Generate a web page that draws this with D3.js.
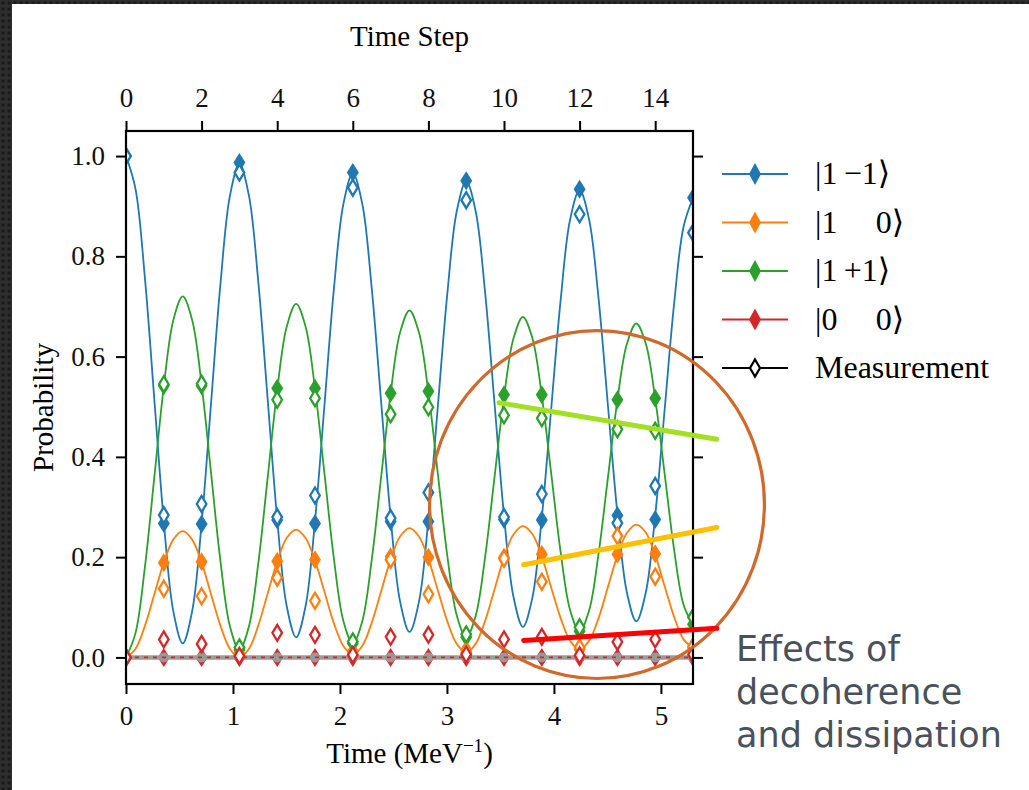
<!DOCTYPE html>
<html>
<head>
<meta charset="utf-8">
<script src="https://cdn.jsdelivr.net/npm/d3@7"></script>
<style>
  body { margin: 0; background: #fff; }
  text { font-family: "Liberation Serif", "DejaVu Serif", serif; }
</style>
</head>
<body>
<div id="chart"></div>
<script>
// time steps and axis extents
const steps = d3.range(0, 16);
const stepMax = 15;
const timeMax = 5.3;
const timeTicks = [0, 1, 2, 3, 4, 5];
const stepTicks = [0, 2, 4, 6, 8, 10, 12, 14];
const probTicks = [0.0, 0.2, 0.4, 0.6, 0.8, 1.0];

// continuous curves, sampled every quarter step
const curveSteps = d3.range(0, 15.001, 0.25);
const blueCurve = [1.000,0.935,0.757,0.514,0.271,0.093,0.028,0.092,0.267,0.507,0.746,0.921,
  0.985,0.922,0.749,0.513,0.276,0.103,0.040,0.102,0.272,0.503,0.735,0.904,
  0.966,0.905,0.737,0.509,0.280,0.112,0.051,0.111,0.276,0.501,0.725,0.890,
  0.950,0.890,0.728,0.506,0.283,0.121,0.061,0.119,0.279,0.497,0.714,0.874,
  0.932,0.874,0.717,0.502,0.287,0.130,0.072,0.129,0.283,0.494,0.705,0.859,
  0.916];
const orangeCurve = [0.000,0.017,0.063,0.126,0.189,0.235,0.252,0.235,0.189,0.126,0.063,0.017,
  0.000,0.017,0.064,0.128,0.191,0.238,0.255,0.238,0.193,0.131,0.068,0.023,
  0.006,0.023,0.069,0.132,0.195,0.241,0.258,0.241,0.196,0.134,0.072,0.027,
  0.010,0.027,0.073,0.136,0.199,0.245,0.262,0.246,0.201,0.139,0.078,0.033,
  0.016,0.033,0.078,0.141,0.203,0.248,0.265,0.249,0.204,0.142,0.081,0.036,
  0.019];
const greenCurve = [0.000,0.048,0.180,0.360,0.540,0.672,0.720,0.673,0.544,0.368,0.191,0.062,
  0.015,0.061,0.188,0.360,0.533,0.659,0.705,0.660,0.536,0.367,0.197,0.073,
  0.028,0.072,0.194,0.360,0.526,0.648,0.692,0.648,0.529,0.366,0.203,0.084,
  0.040,0.083,0.200,0.360,0.519,0.636,0.679,0.637,0.522,0.366,0.209,0.094,
  0.052,0.093,0.206,0.359,0.513,0.625,0.666,0.626,0.516,0.366,0.215,0.105,
  0.065];
const redCurve = [0, 0];

// simulated values (filled diamonds) per time step
const blueSim   = [1.000,0.267,0.266,0.987,0.274,0.267,0.967,0.271,0.271,0.951,0.275,0.274,0.934,0.283,0.275,0.917];
const orangeSim = [0.000,0.189,0.191,0.003,0.192,0.195,0.006,0.201,0.200,0.010,0.200,0.206,0.016,0.206,0.207,0.019];
const greenSim  = [0.000,0.542,0.542,0.015,0.537,0.537,0.028,0.527,0.531,0.040,0.524,0.524,0.052,0.514,0.517,0.066];
const redSim    = [0,0,0,0,0,0,0,0,0,0,0,0,0,0,0,0];
const baseSim   = [0,0,0,0,0,0,0,0,0,0,0,0,0,0,0,0];

// measurements (open diamonds)
const blueMeas   = [1.000,0.284,0.306,0.967,0.280,0.323,0.937,0.278,0.329,0.912,0.280,0.326,0.884,0.268,0.342,0.847];
const orangeMeas = [0.000,0.137,0.122,0.008,0.159,0.113,0.012,0.195,0.126,0.015,0.197,0.151,0.020,0.242,0.161,0.022];
const greenMeas  = [0.000,0.545,0.546,0.020,0.514,0.517,0.032,0.485,0.499,0.046,0.483,0.477,0.060,0.455,0.452,0.080];
const redMeas    = [0.000,0.036,0.027,0.003,0.049,0.045,0.005,0.041,0.045,0.006,0.036,0.041,0.004,0.031,0.036,0.006];

const legendLabels = ["|1\u2009\u22121\u27E9", "|1\u2003\u20090\u27E9", "|1\u2009+1\u27E9", "|0\u2003\u20090\u27E9", "Measurement"];

// annotation overlay (step, probability)
const ringCenter = [12.46, 0.305];
const ringRadius = [4.43, 0.347];
const arrowsAnn = [
  {from: [9.87, 0.508], to: [15.63, 0.435], color: "#a3df22"},
  {from: [10.52, 0.185], to: [15.63, 0.259], color: "#ffc000"},
  {from: [10.52, 0.034], to: [15.63, 0.058], color: "#ff0000"}
];
const noteLines = ["Effects of", "decoherence", "and dissipation"];

const colors = {blue: "#1f77b4", orange: "#ff7f0e", green: "#2ca02c", red: "#d62728"};

const W = 1029, H = 790;
const plot = {left: 126, right: 693, top: 131, bottom: 684};

const svg = d3.select("#chart").append("svg")
  .attr("width", W).attr("height", H);

// slide border
const defs = svg.append("defs");
const pat = defs.append("pattern").attr("id", "dots")
  .attr("width", 6).attr("height", 6).attr("patternUnits", "userSpaceOnUse");
pat.append("rect").attr("width", 6).attr("height", 6).attr("fill", "#2e2e2e");
pat.append("circle").attr("cx", 3).attr("cy", 3).attr("r", 1.8).attr("fill", "#1b1b1b");
svg.append("rect").attr("x", 0).attr("y", 0).attr("width", W).attr("height", 4).attr("fill", "url(#dots)");
svg.append("rect").attr("x", 0).attr("y", 0).attr("width", 12).attr("height", H).attr("fill", "url(#dots)");

defs.append("clipPath").attr("id", "clip").append("rect")
  .attr("x", plot.left).attr("y", plot.top)
  .attr("width", plot.right - plot.left).attr("height", plot.bottom - plot.top);

// scales
const xStep = d3.scaleLinear().domain([0, stepMax]).range([plot.left, plot.right]);
const xTime = d3.scaleLinear().domain([0, timeMax]).range([plot.left, plot.right]);
const y = d3.scaleLinear().domain([-0.053, 1.05]).range([plot.bottom, plot.top]);

// axes
const fmt1 = d3.format(".1f");
const gB = svg.append("g").attr("transform", `translate(0,${plot.bottom})`)
  .call(d3.axisBottom(xTime).tickValues(timeTicks).tickSize(10).tickPadding(12).tickFormat(d3.format("d")));
const gT = svg.append("g").attr("transform", `translate(0,${plot.top})`)
  .call(d3.axisTop(xStep).tickValues(stepTicks).tickSize(10).tickPadding(14).tickFormat(d3.format("d")));
const gL = svg.append("g").attr("transform", `translate(${plot.left},0)`)
  .call(d3.axisLeft(y).tickValues(probTicks).tickSize(10).tickPadding(11).tickFormat(fmt1));
const gR = svg.append("g").attr("transform", `translate(${plot.right},0)`)
  .call(d3.axisRight(y).tickValues(probTicks).tickSize(10).tickFormat(""));
[gB, gT, gL, gR].forEach(g => {
  g.select(".domain").remove();
  g.selectAll(".tick line").attr("stroke", "#000").attr("stroke-width", 2);
  g.selectAll(".tick text").attr("font-size", 27).attr("fill", "#111")
    .style("font-family", "'Liberation Serif', serif");
});

// curves
const chart = svg.append("g").attr("clip-path", "url(#clip)");
const line = d3.line().x(d => xStep(d[0])).y(d => y(d[1])).curve(d3.curveCatmullRom);
[[blueCurve, colors.blue], [orangeCurve, colors.orange], [greenCurve, colors.green]].forEach(([vals, c]) => {
  chart.append("path")
    .datum(curveSteps.map((s, i) => [s, vals[i]]))
    .attr("fill", "none").attr("stroke", c).attr("stroke-width", 1.8)
    .attr("d", line);
});

// diamond path
function diamond(hw, hh) {
  return `M0,${-hh}L${hw},0L0,${hh}L${-hw},0Z`;
}

// simulated values
[[blueSim, colors.blue], [orangeSim, colors.orange], [greenSim, colors.green], [redSim, colors.red]].forEach(([vals, c]) => {
  chart.append("g").selectAll("path")
    .data(steps.map((s, i) => [s, vals[i]]))
    .join("path")
    .attr("transform", d => `translate(${xStep(d[0])},${y(d[1])})`)
    .attr("d", diamond(6, 9.5))
    .attr("fill", c);
});

// grey zero baseline with dots
chart.append("path")
  .datum(steps.map((s, i) => [s, baseSim[i]]))
  .attr("fill", "none").attr("stroke", "#9c9c9c").attr("stroke-width", 4.5)
  .attr("d", d3.line().x(d => xStep(d[0])).y(d => y(d[1])));
chart.append("g").selectAll("circle")
  .data(steps.map((s, i) => [s, baseSim[i]]))
  .join("circle")
  .attr("cx", d => xStep(d[0])).attr("cy", d => y(d[1])).attr("r", 5)
  .attr("fill", "#999");

// red |0 0> curve (dashed)
chart.append("path")
  .datum([[0, redCurve[0]], [stepMax, redCurve[1]]])
  .attr("fill", "none").attr("stroke", colors.red).attr("stroke-width", 1.8)
  .attr("stroke-dasharray", "4,5")
  .attr("d", d3.line().x(d => xStep(d[0])).y(d => y(d[1])));

// measurements
[[blueMeas, colors.blue], [orangeMeas, colors.orange], [greenMeas, colors.green], [redMeas, colors.red]].forEach(([vals, c]) => {
  chart.append("g").selectAll("path")
    .data(steps.map((s, i) => [s, vals[i]]))
    .join("path")
    .attr("transform", d => `translate(${xStep(d[0])},${y(d[1])})`)
    .attr("d", diamond(4.8, 8))
    .attr("fill", "#fff").attr("stroke", c).attr("stroke-width", 2.3);
});

// frame
svg.append("rect")
  .attr("x", plot.left).attr("y", plot.top)
  .attr("width", plot.right - plot.left).attr("height", plot.bottom - plot.top)
  .attr("fill", "none").attr("stroke", "#000").attr("stroke-width", 2.2);

// axis labels
svg.append("text").attr("x", (plot.left + plot.right) / 2).attr("y", 46)
  .attr("text-anchor", "middle").attr("font-size", 29).text("Time Step");
const xl = svg.append("text").attr("x", (plot.left + plot.right) / 2).attr("y", 763)
  .attr("text-anchor", "middle").attr("font-size", 29);
xl.append("tspan").text("Time (MeV");
xl.append("tspan").attr("font-size", 19).attr("dy", -11).text("\u22121");
xl.append("tspan").attr("dy", 11).text(")");
svg.append("text")
  .attr("transform", `translate(53,${(plot.top + plot.bottom) / 2}) rotate(-90)`)
  .attr("text-anchor", "middle").attr("font-size", 29).text("Probability");

// legend
const legendColors = [colors.blue, colors.orange, colors.green, colors.red, "#000"];
const legend = svg.append("g");
legendLabels.forEach((lab, i) => {
  const ly = 174 + i * 48.5;
  const g = legend.append("g").attr("transform", `translate(0,${ly})`);
  g.append("line").attr("x1", 722).attr("x2", 788).attr("stroke", legendColors[i]).attr("stroke-width", 2);
  const m = g.append("path").attr("transform", "translate(755,0)");
  if (i < 4) m.attr("d", diamond(6, 11)).attr("fill", legendColors[i]);
  else m.attr("d", diamond(5, 8.5)).attr("fill", "#fff").attr("stroke", "#000").attr("stroke-width", 2.2);
  g.append("text").attr("x", 815).attr("y", 10).attr("font-size", 32)
    .style("white-space", "pre").text(lab);
});

// annotation overlay
svg.append("ellipse")
  .attr("cx", xStep(ringCenter[0])).attr("cy", y(ringCenter[1]))
  .attr("rx", xStep(ringRadius[0]) - xStep(0)).attr("ry", y(0) - y(ringRadius[1]))
  .attr("fill", "none").attr("stroke", "#d0692a").attr("stroke-width", 3.2);
arrowsAnn.forEach(a => {
  svg.append("line")
    .attr("x1", xStep(a.from[0])).attr("y1", y(a.from[1]))
    .attr("x2", xStep(a.to[0])).attr("y2", y(a.to[1]))
    .attr("stroke", a.color).attr("stroke-width", 5).attr("stroke-linecap", "round");
});
const note = svg.append("text").attr("x", 736).attr("y", 661)
  .attr("font-size", 35).attr("fill", "#4a515b")
  .style("font-family", "'DejaVu Sans', sans-serif");
noteLines.forEach((t, i) => {
  note.append("tspan").attr("x", 736).attr("dy", i === 0 ? 0 : 43).text(t);
});
</script>
</body>
</html>
